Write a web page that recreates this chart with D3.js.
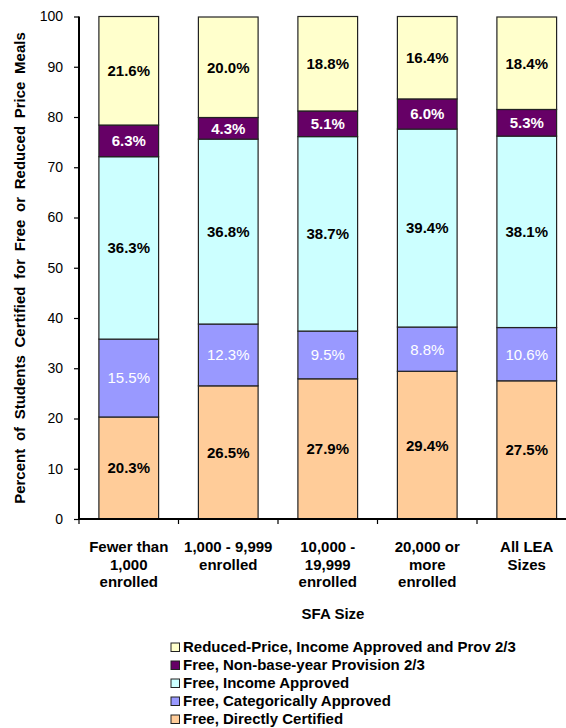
<!DOCTYPE html>
<html>
<head>
<meta charset="utf-8">
<script src="https://cdn.jsdelivr.net/npm/d3@7"></script>
<style>
  html, body { margin: 0; padding: 0; background: #fff; }
  svg { display: block; font-family: "Liberation Sans", Arial, sans-serif; }
</style>
</head>
<body>
<svg id="chart" width="566" height="728"></svg>
<script>
// SFA size groups (x axis), one label line per array entry
const categories = ["lt1000", "1000to9999", "10000to19999", "20000plus", "all"];
const categoryLines = [
  ["Fewer than", "1,000", "enrolled"],
  ["1,000 - 9,999", "enrolled"],
  ["10,000 -", "19,999", "enrolled"],
  ["20,000 or", "more", "enrolled"],
  ["All LEA", "Sizes"]
];

// Series, stacked from the bottom up (percent of certified students)
const seriesNames = [
  "Free, Directly Certified",
  "Free, Categorically Approved",
  "Free, Income Approved",
  "Free, Non-base-year Provision 2/3",
  "Reduced-Price, Income Approved and Prov 2/3"
];
const directlyCertified = [20.3, 26.5, 27.9, 29.4, 27.5];
const categoricallyApproved = [15.5, 12.3, 9.5, 8.8, 10.6];
const incomeApproved = [36.3, 36.8, 38.7, 39.4, 38.1];
const nonBaseYear = [6.3, 4.3, 5.1, 6.0, 5.3];
const reducedPrice = [21.6, 20.0, 18.8, 16.4, 18.4];

const yTicks = [0, 10, 20, 30, 40, 50, 60, 70, 80, 90, 100];

const seriesValues = [directlyCertified, categoricallyApproved, incomeApproved, nonBaseYear, reducedPrice];
const seriesColors = ["#FFCC99", "#9999FF", "#CCFFFF", "#660066", "#FFFFCC"];
const labelStyle = [
  { fill: "#000", weight: "bold" },
  { fill: "#fff", weight: "normal" },
  { fill: "#000", weight: "bold" },
  { fill: "#fff", weight: "bold" },
  { fill: "#000", weight: "bold" }
];

const svg = d3.select("#chart");

const x = d3.scaleBand()
  .domain(categories)
  .range([79, 576.5])
  .paddingInner(0.4)
  .paddingOuter(0.2);

const y = d3.scaleLinear().domain([0, 100]).range([519, 16.5]);

// Build stacked table
const table = categories.map((c, i) => {
  const row = { cat: c };
  seriesNames.forEach((s, k) => { row[s] = seriesValues[k][i]; });
  return row;
});
const stacked = d3.stack().keys(seriesNames)(table);

// Bars
const layers = svg.append("g").selectAll("g")
  .data(stacked)
  .join("g")
  .attr("fill", (d, k) => seriesColors[k]);

layers.selectAll("rect")
  .data(d => d)
  .join("rect")
  .attr("x", d => x(d.data.cat))
  .attr("width", x.bandwidth())
  .attr("y", d => y(d[1]))
  .attr("height", d => y(d[0]) - y(d[1]))
  .attr("stroke", "#222")
  .attr("stroke-width", 1.2);

// Segment value labels
stacked.forEach((layer, k) => {
  svg.append("g").selectAll("text")
    .data(layer)
    .join("text")
    .attr("x", d => x(d.data.cat) + x.bandwidth() / 2)
    .attr("y", d => y((d[0] + d[1]) / 2))
    .attr("dy", "0.36em")
    .attr("text-anchor", "middle")
    .attr("font-size", 15)
    .attr("font-weight", labelStyle[k].weight)
    .attr("fill", labelStyle[k].fill)
    .text((d, i) => seriesValues[k][i].toFixed(1) + "%");
});

// Y axis
const yAxis = d3.axisLeft(y).tickValues(yTicks).tickSize(5).tickPadding(11);
const gy = svg.append("g").attr("transform", "translate(79,0)").call(yAxis);
gy.select(".domain").attr("stroke", "#000").attr("stroke-width", 2).attr("d", `M0,${y(100)}V${y(0)}`);
gy.selectAll(".tick line").attr("stroke", "#000").attr("stroke-width", 1.2);
gy.selectAll(".tick text")
  .attr("font-size", 14)
  .attr("font-family", "'Liberation Sans', Arial, sans-serif")
  .attr("fill", "#000");

// X axis line with boundary ticks between groups
const step = x.step();
const boundaries = categories.map(c => x(c) - step * x.paddingOuter());
svg.append("line")
  .attr("x1", 79).attr("x2", 566)
  .attr("y1", y(0)).attr("y2", y(0))
  .attr("stroke", "#000").attr("stroke-width", 2);
svg.append("g").selectAll("line")
  .data(boundaries)
  .join("line")
  .attr("x1", d => d).attr("x2", d => d)
  .attr("y1", y(0)).attr("y2", y(0) + 5)
  .attr("stroke", "#000").attr("stroke-width", 1.2);

// Category labels
const catLabels = svg.append("g").selectAll("text")
  .data(categories)
  .join("text")
  .attr("text-anchor", "middle")
  .attr("font-size", 15)
  .attr("font-weight", "bold")
  .attr("fill", "#000");
catLabels.each(function (c, i) {
  const cx = x(c) + x.bandwidth() / 2;
  d3.select(this).selectAll("tspan")
    .data(categoryLines[i])
    .join("tspan")
    .attr("x", cx)
    .attr("y", (d, j) => 552 + j * 17.5)
    .text(d => d);
});

// Axis titles
svg.append("text")
  .attr("x", 333).attr("y", 619)
  .attr("text-anchor", "middle")
  .attr("font-size", 15)
  .attr("font-weight", "bold")
  .text("SFA Size");

svg.append("text")
  .attr("transform", "translate(25,268) rotate(-90)")
  .attr("text-anchor", "middle")
  .attr("font-size", 15)
  .attr("font-weight", "bold")
  .attr("word-spacing", 3.5)
  .text("Percent of Students Certified for Free or Reduced Price Meals");

// Legend (top entry is the top of the stack)
const legendOrder = d3.range(seriesNames.length).reverse();
const legend = svg.append("g").selectAll("g")
  .data(legendOrder)
  .join("g")
  .attr("transform", (k, r) => `translate(171,${652 + r * 18})`);
legend.append("rect")
  .attr("x", 0).attr("y", -9)
  .attr("width", 8.5).attr("height", 8.5)
  .attr("fill", k => seriesColors[k])
  .attr("stroke", "#222").attr("stroke-width", 1);
legend.append("text")
  .attr("x", 12).attr("y", 0)
  .attr("font-size", 15)
  .attr("font-weight", "bold")
  .attr("fill", "#000")
  .text(k => seriesNames[k]);
</script>
</body>
</html>
